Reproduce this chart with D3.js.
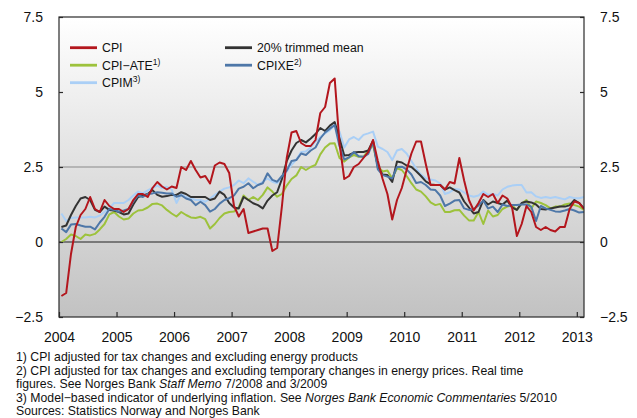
<!DOCTYPE html>
<html>
<head>
<meta charset="utf-8">
<script src="https://cdn.jsdelivr.net/npm/d3@7"></script>
<style>
  html, body { margin: 0; padding: 0; background: #fff; }
  svg { display: block; font-family: "Liberation Sans", Arial, Helvetica, sans-serif; }
</style>
</head>
<body>
<svg id="chart" width="637" height="418"></svg>
<script>
// ---- data: monthly 12-month change, Jan 2004 .. Feb 2013 ----
const startYear = 2004;
const yearTicks = [2004, 2005, 2006, 2007, 2008, 2009, 2010, 2011, 2012, 2013];
const yTicks = [-2.5, 0, 2.5, 5, 7.5];
const yTickLabels = ["\u22122.5", "0", "2.5", "5", "7.5"];

const cpi = [-1.8,-1.7,-0.4,0.5,0.9,1.1,1.5,1.1,1.0,1.4,1.2,1.1,
  1.1,1.0,1.1,1.4,1.6,1.6,1.5,1.8,2.0,1.85,1.75,1.85,
  1.8,2.5,2.4,2.7,2.4,2.15,2.2,1.95,2.55,2.65,2.6,2.3,
  1.2,0.85,1.1,0.3,0.35,0.4,0.45,0.45,-0.3,-0.2,1.2,2.8,
  3.65,3.7,3.3,3.2,3.2,3.4,4.3,4.5,5.3,5.45,3.3,2.1,
  2.2,2.5,2.6,2.8,3.0,3.4,2.7,2.1,1.6,0.75,1.4,1.8,
  2.4,2.95,3.35,3.35,2.6,1.9,1.9,1.9,1.75,2.0,1.95,2.8,
  2.05,1.4,1.05,1.3,1.6,1.5,1.6,1.3,1.55,1.45,1.15,0.2,
  0.6,1.2,1.0,0.5,0.4,0.5,0.4,0.35,0.5,0.5,1.1,1.35,
  1.3,1.1];
const cpiAte = [0.0,0.1,0.25,0.2,0.1,0.25,0.22,0.27,0.42,0.6,0.92,1.0,
  0.85,0.75,0.78,0.95,1.05,1.07,1.15,1.27,1.28,1.22,1.07,0.95,
  0.85,1.0,0.9,0.82,0.8,0.84,0.76,0.45,0.6,0.8,0.95,1.0,
  1.02,1.16,1.55,1.4,1.5,1.4,1.57,1.82,1.68,1.51,1.6,1.88,
  2.1,2.22,2.5,2.4,2.5,2.57,2.92,3.15,3.28,3.29,2.8,2.68,
  2.82,2.9,2.84,2.84,3.05,3.23,2.52,2.35,2.38,2.12,2.46,2.4,
  2.2,1.96,1.75,1.68,1.52,1.32,1.23,1.27,1.0,1.0,1.06,1.07,
  0.88,0.72,0.72,1.0,0.6,1.05,0.85,0.9,1.1,1.18,1.22,1.07,
  1.28,1.4,1.12,1.35,1.3,1.23,1.12,1.18,1.18,1.25,1.28,1.23,
  1.18,1.07];
const cpim = [0.95,0.7,0.8,0.82,0.82,0.82,0.84,0.82,0.88,1.0,1.12,1.3,
  1.3,1.3,1.4,1.55,1.68,1.62,1.72,1.8,1.88,1.8,1.84,1.75,
  1.3,1.6,1.5,1.46,1.4,1.4,1.34,1.45,1.57,1.68,1.78,1.82,
  1.9,2.05,1.96,2.12,2.01,1.9,2.01,2.12,2.01,1.96,2.15,2.35,
  2.57,2.75,3.0,3.02,3.15,3.35,3.5,3.62,3.73,3.9,3.68,3.15,
  3.42,3.5,3.4,3.57,3.62,3.68,3.18,3.1,3.0,2.73,3.05,3.1,
  2.95,2.7,2.45,2.25,2.12,2.08,2.05,1.95,1.6,1.66,1.77,1.75,
  1.65,1.55,1.51,1.55,1.68,1.57,1.6,1.55,1.75,1.84,1.88,1.9,
  1.9,1.65,1.66,1.52,1.47,1.5,1.47,1.5,1.46,1.42,1.5,1.46,
  1.46,1.5];
const trimmedMean = [0.5,0.55,0.9,1.2,1.45,1.5,1.4,1.07,1.0,1.18,1.07,1.05,
  1.0,0.92,0.95,1.25,1.5,1.55,1.6,1.73,1.57,1.51,1.53,1.57,
  1.57,1.66,1.6,1.5,1.5,1.5,1.5,1.4,1.45,1.68,1.57,1.3,
  1.15,1.12,1.5,1.4,1.29,1.23,1.12,1.38,1.55,1.66,2.1,2.7,
  3.05,3.3,3.4,3.32,3.45,3.6,3.8,3.7,3.88,4.0,3.45,2.88,
  2.9,2.98,3.0,3.0,3.05,3.38,2.5,2.25,2.23,2.0,2.68,2.65,
  2.55,2.5,2.36,2.2,2.02,1.92,1.9,1.9,1.75,1.82,1.73,1.65,
  1.35,1.15,0.95,1.0,1.4,1.25,1.35,1.3,1.25,1.38,1.15,1.07,
  1.3,1.35,1.32,1.25,1.1,1.08,1.12,1.15,1.18,1.18,1.22,1.4,
  1.3,1.12];
const cpixe = [0.45,0.33,0.58,0.6,0.55,0.51,0.51,0.42,0.65,0.84,1.1,1.07,
  1.01,1.05,1.1,1.35,1.55,1.5,1.6,1.62,1.66,1.64,1.62,1.62,
  1.51,1.56,1.45,1.4,1.23,1.34,1.23,1.01,1.1,1.28,1.4,1.46,
  1.55,1.78,1.84,1.96,1.79,1.9,1.96,2.29,2.07,2.01,2.2,2.38,
  2.7,2.73,2.95,2.9,3.05,3.15,3.45,3.65,3.78,3.9,3.2,2.75,
  2.82,3.0,2.86,2.84,2.94,3.33,2.42,2.23,2.18,2.12,2.5,2.51,
  2.42,2.25,1.97,2.0,1.9,1.75,1.73,1.55,1.2,1.28,1.38,1.4,
  1.12,1.07,1.1,1.22,1.38,1.12,1.18,1.0,1.25,1.2,1.23,1.23,
  1.25,1.25,1.18,0.7,1.2,1.12,1.07,1.02,1.01,1.05,1.1,1.05,
  0.98,1.0];

const seriesNames = ["CPI", "CPI\u2212ATE", "CPIM", "20% trimmed mean", "CPIXE"];
const seriesSup = ["", "1)", "3)", "", "2)"];
const seriesValues = [cpi, cpiAte, cpim, trimmedMean, cpixe];
const seriesColors = ["#b3161d", "#9dc23c", "#aacff6", "#333333", "#4e77a8"];
const drawOrder = [2, 1, 3, 4, 0];

const footnotes = [
  [{t: "1) CPI adjusted for tax changes and excluding energy products"}],
  [{t: "2) CPI adjusted for tax changes and excluding temporary changes in energy prices. Real time"}],
  [{t: "figures. See Norges Bank "}, {t: "Staff Memo", i: true}, {t: " 7/2008 and 3/2009"}],
  [{t: "3) Model\u2212based indicator of underlying inflation. See "}, {t: "Norges Bank Economic Commentaries", i: true}, {t: " 5/2010"}],
  [{t: "Sources: Statistics Norway and Norges Bank"}]
];

// ---- layout ----
const svg = d3.select("#chart");
const L = 59, R = 584, T = 17, B = 317;
const x = d3.scaleLinear().domain([2004, 2013 + 1.5 / 12]).range([L, R]);
const y = d3.scaleLinear().domain([-2.5, 7.5]).range([B, T]);

const defs = svg.append("defs");
const grad = defs.append("linearGradient").attr("id", "bg")
  .attr("x1", 0).attr("y1", 0).attr("x2", 0).attr("y2", 1);
grad.append("stop").attr("offset", "0%").attr("stop-color", "#ffffff");
grad.append("stop").attr("offset", "100%").attr("stop-color", "#c2c2c2");
defs.append("clipPath").attr("id", "clip").append("rect")
  .attr("x", L).attr("y", T).attr("width", R - L).attr("height", B - T);

svg.append("rect").attr("x", L).attr("y", T).attr("width", R - L).attr("height", B - T)
  .attr("fill", "url(#bg)");

// reference lines
svg.append("line").attr("x1", L).attr("x2", R).attr("y1", y(2.5)).attr("y2", y(2.5))
  .attr("stroke", "#8a8a8a").attr("stroke-width", 1.2);
svg.append("line").attr("x1", L).attr("x2", R).attr("y1", y(0)).attr("y2", y(0))
  .attr("stroke", "#222").attr("stroke-width", 1.2);

// lines
const line = d3.line()
  .defined(d => d != null)
  .x((d, i) => x(startYear + (i + 0.5) / 12))
  .y(d => y(d));
const gLines = svg.append("g").attr("clip-path", "url(#clip)");
drawOrder.forEach(k => {
  gLines.append("path").datum(seriesValues[k])
    .attr("fill", "none").attr("stroke", seriesColors[k])
    .attr("stroke-width", 2).attr("stroke-linejoin", "round")
    .attr("d", line);
});

// frame
svg.append("rect").attr("x", L).attr("y", T).attr("width", R - L).attr("height", B - T)
  .attr("fill", "none").attr("stroke", "#2a2a2a").attr("stroke-width", 1.2);

// axes
const fmtY = d => yTickLabels[yTicks.indexOf(d)];
const axL = d3.axisLeft(y).tickValues(yTicks).tickFormat(fmtY).tickSizeInner(-4).tickSizeOuter(0).tickPadding(16);
const axR = d3.axisRight(y).tickValues(yTicks).tickFormat(fmtY).tickSizeInner(-4).tickSizeOuter(0).tickPadding(16);
const axB = d3.axisBottom(x).tickValues(yearTicks).tickFormat(d3.format("d")).tickSizeInner(-5).tickSizeOuter(0).tickPadding(15);

function style(g) {
  g.select(".domain").remove();
  g.selectAll(".tick line").attr("stroke", "#2a2a2a").attr("stroke-width", 1.2);
  g.selectAll(".tick text").attr("fill", "#111").style("font-size", "14px")
    .style("font-family", "'Liberation Sans', Arial, sans-serif");
}
svg.append("g").attr("transform", `translate(${L},0)`).call(axL).call(style);
svg.append("g").attr("transform", `translate(${R},0)`).call(axR).call(style);
svg.append("g").attr("transform", `translate(0,${B})`).call(axB).call(style);

// legend
const legendPos = [[70, 47.7], [70, 65.2], [70, 82.7], [225, 47.7], [225, 65.2]];
seriesNames.forEach((name, k) => {
  const [lx, ly] = legendPos[k];
  svg.append("line").attr("x1", lx).attr("x2", lx + 27).attr("y1", ly).attr("y2", ly)
    .attr("stroke", seriesColors[k]).attr("stroke-width", 2.8);
  const t = svg.append("text").attr("x", lx + 32).attr("y", ly + 4.3)
    .attr("fill", "#111").style("font-size", "12.3px");
  t.append("tspan").text(name);
  if (seriesSup[k]) {
    t.append("tspan").attr("dy", -5).style("font-size", "8.5px").text(seriesSup[k]);
  }
});

// footnotes
footnotes.forEach((parts, j) => {
  const t = svg.append("text").attr("x", 16).attr("y", 361 + j * 13.5)
    .attr("fill", "#111").style("font-size", "12.25px");
  parts.forEach(p => {
    const s = t.append("tspan").text(p.t);
    if (p.i) s.style("font-style", "italic");
  });
});
</script>
</body>
</html>
